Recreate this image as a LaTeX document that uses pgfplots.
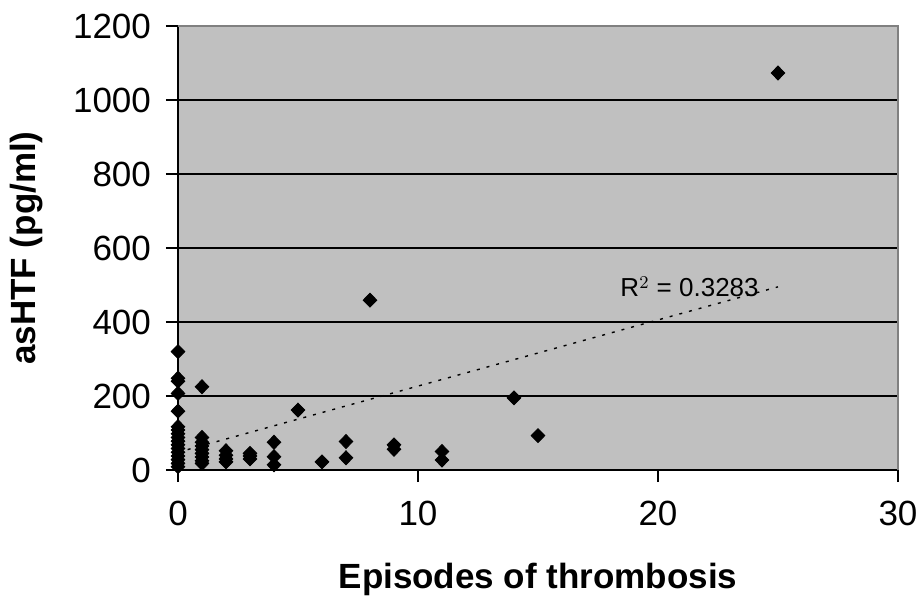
\documentclass[border=0pt]{standalone}
\usepackage{fontspec}
\setmainfont{Liberation Sans}
\usepackage{pgfplots}
\pgfplotsset{compat=1.18}
\definecolor{bgGray}{HTML}{C0C0C0}
\definecolor{bdGray}{HTML}{808080}
\begin{document}
\begin{tikzpicture}
\path[use as bounding box] (-89pt,-66pt) rectangle (370pt,235pt);
\begin{axis}[
  at={(0,0)}, anchor=south west,
  scale only axis, width=360pt, height=222pt,
  xmin=0, xmax=30, ymin=0, ymax=1200,
  xtick={0,10,20,30}, ytick={0,200,...,1200},
  axis lines=left, axis line style={-, line width=0.8pt, black},
  axis background/.style={fill=bgGray},
  ymajorgrids, grid style={black, line width=0.8pt},
  tick align=outside, major tick length=6pt,
  tick style={black, line width=0.8pt},
  /pgf/number format/assume math mode=true,
  /pgf/number format/1000 sep={},
  tick label style={font=\fontsize{17.5}{20}\selectfont},
  xticklabel style={yshift=-6pt},
  yticklabel style={xshift=-4pt},
  xlabel={\textbf{Episodes of thrombosis}},
  ylabel={\textbf{asHTF (pg/ml)}},
  label style={font=\fontsize{17.5}{20}\selectfont},
  xlabel style={at={(axis description cs:0.5,-0.2455)}, anchor=center},
  ylabel style={at={(axis description cs:-0.2097,0.5)}, anchor=center, rotate=0},
  clip=false,
]
\addplot[black, line width=0.7pt, dash pattern=on 1.5pt off 3.5pt] coordinates {(0,48) (25,495)};
\addplot[only marks, mark=diamond*, mark size=3.5pt, mark options={xscale=1.3}, black] coordinates {
(0,320) (0,248) (0,240) (0,207) (0,159) (0,117) (0,108) (0,98) (0,88) (0,78) (0,68) (0,58) (0,48) (0,38) (0,28) (0,18) (0,9)
(1,225) (1,88) (1,75) (1,65) (1,55) (1,45) (1,35) (1,25) (1,18)
(2,52) (2,40) (2,30) (2,22)
(3,45) (3,38) (3,30)
(4,75) (4,36) (4,14)
(5,162) (6,22) (7,77) (7,33) (8,459) (9,68) (9,56) (11,50) (11,27)
(14,195) (15,93) (25,1073)
};
\draw[bdGray, line width=0.8pt] (rel axis cs:0,1) -- (rel axis cs:1,1) -- (rel axis cs:1,0);
\node[anchor=base west, inner sep=0pt, font=\fontsize{13}{15}\selectfont] at (axis cs:18.42,468) {R$^2$ = 0.3283};
\end{axis}
\end{tikzpicture}
\end{document}
